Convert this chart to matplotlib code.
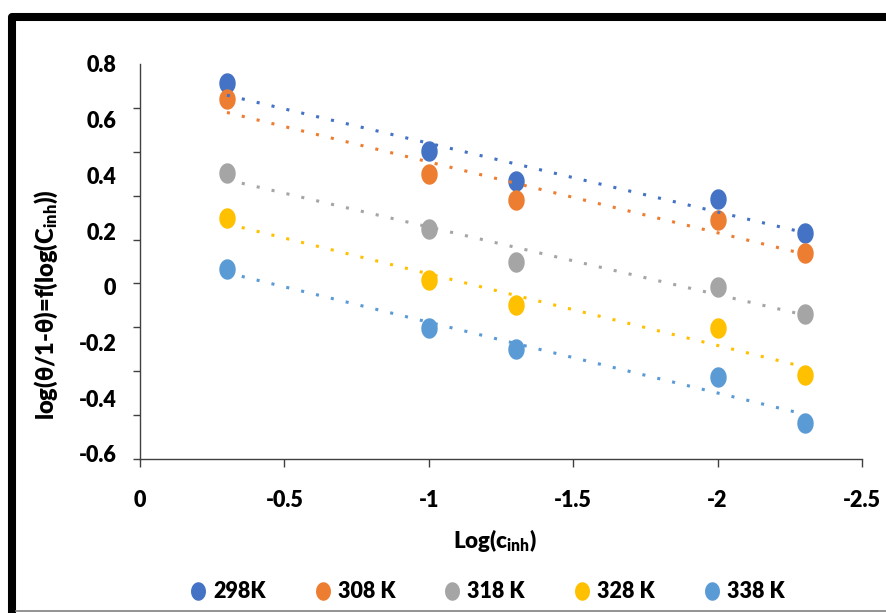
import numpy as np
import matplotlib.pyplot as plt
from matplotlib.path import Path
from matplotlib.lines import Line2D

plt.rcParams['font.family'] = ['Lato', 'DejaVu Sans']
plt.rcParams['font.weight'] = 'heavy'
plt.rcParams['axes.unicode_minus'] = False
plt.rcParams['mathtext.fontset'] = 'custom'
plt.rcParams['mathtext.rm'] = 'Lato:heavy'
plt.rcParams['mathtext.bf'] = 'Lato:heavy'
plt.rcParams['mathtext.it'] = 'Lato:heavy'

# data
log_c = [-0.301, -1.0, -1.301, -2.0, -2.301]
temps = ['298K', '308 K', '318 K', '328 K', '338 K']
y_298 = [0.730, 0.486, 0.381, 0.317, 0.194]
y_308 = [0.676, 0.406, 0.313, 0.241, 0.122]
y_318 = [0.410, 0.209, 0.090, 0.000, -0.097]
y_328 = [0.248, 0.025, -0.065, -0.147, -0.317]
y_338 = [0.065, -0.147, -0.223, -0.324, -0.489]
series = [y_298, y_308, y_318, y_328, y_338]
colors = ['#4472C4', '#ED7D31', '#A5A5A5', '#FFC000', '#5B9BD5']

xticks = [0, -0.5, -1, -1.5, -2, -2.5]
xtick_labels = ['0', '-0.5', '-1', '-1.5', '-2', '-2.5']
ytick_vals = [0.8, 0.6, 0.4, 0.2, 0, -0.2, -0.4, -0.6]
ytick_labels = ['0.8', '0.6', '0.4', '0.2', '0', '-0.2', '-0.4', '-0.6']
ystep = 0.15755
ymin = 0.8 - 9 * ystep

# tall ellipse marker like the excel one
t = np.linspace(0, 2 * np.pi, 60)
ellipse = Path(np.column_stack([0.79 * np.cos(t), np.sin(t)]))

W, H = 886, 613
fig = plt.figure(figsize=(W / 100, H / 100), dpi=100)
ax = fig.add_axes([140 / W, 1 - 459 / H, 722 / W, 395 / H])

for y, c, lab in zip(series, colors, temps):
    ax.plot(log_c, y, ls='none', marker=ellipse, ms=13.7, color=c,
            label=lab, zorder=3)
    fit = np.polyfit(log_c, y, 1)
    xs = np.array([max(log_c), min(log_c)])
    ax.plot(xs, np.polyval(fit, xs), ls=(0, (1, 4)), lw=2.2, color=c,
            dash_capstyle='butt', zorder=4)

ax.set_xlim(0, -2.5)
ax.set_ylim(ymin, 0.8)
ax.set_xticks(xticks)
ax.set_xticklabels(xtick_labels)
ax.set_yticks(ytick_vals)
ax.set_yticklabels(ytick_labels)
ax.set_yticks(0.8 - ystep * np.arange(10), minor=True)
ax.tick_params(axis='x', direction='out', length=6, width=1, pad=16,
               labelsize=15.5, color='#404040')
ax.tick_params(axis='y', which='major', length=0, pad=17, labelsize=15.5)
ax.tick_params(axis='y', which='minor', direction='out', length=5, width=1,
               color='#404040')
for s in ['top', 'right']:
    ax.spines[s].set_visible(False)
for s in ['left', 'bottom']:
    ax.spines[s].set_color('#404040')
    ax.spines[s].set_linewidth(1)

fig.text(495 / W, 1 - 540 / H, r'Log(c$_{\mathrm{inh}}$)', fontsize=16,
         ha='center', va='center')
fig.text(46 / W, 1 - 305 / H, r'log(θ/1-θ)=f(log(C$_{\mathrm{inh}}$))',
         fontsize=17, rotation=90, ha='center', va='center')

handles, labels = ax.get_legend_handles_labels()
fig.legend(handles, labels, ncol=5, loc='center',
           bbox_to_anchor=(487 / W, 1 - 592 / H), frameon=False, fontsize=15.5,
           handlelength=0.8, handletextpad=0.3, columnspacing=2.25,
           markerscale=0.9)

# cropped chart-area border
fig.add_artist(Line2D([12 / W, 12 / W, 1.01], [-0.01, 1 - 17 / H, 1 - 17 / H],
                      transform=fig.transFigure, color='black', lw=5.8,
                      solid_joinstyle='round'))
fig.add_artist(Line2D([16 / W, 1], [1 - 611 / H, 1 - 611 / H],
                      transform=fig.transFigure, color='#808080', lw=1.2))

fig.savefig('out.png', dpi=100)
